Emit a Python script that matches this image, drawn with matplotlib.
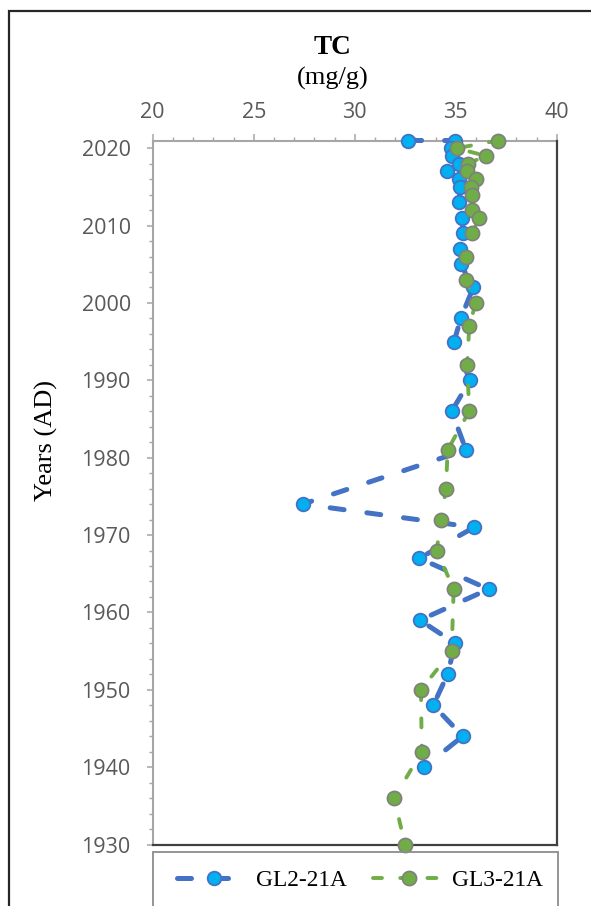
import matplotlib
matplotlib.use("Agg")
import matplotlib.pyplot as plt
from matplotlib.patches import Rectangle
from matplotlib.ticker import MultipleLocator

# --- data -------------------------------------------------------------
gl2_years = [2021, 2021, 2020, 2019, 2018, 2017, 2016, 2015, 2013, 2011,
             2009, 2007, 2005, 2002, 1998, 1995, 1990, 1986, 1981, 1974,
             1971, 1967, 1963, 1959, 1956, 1952, 1948, 1944, 1940]
gl2_tc = [32.62, 34.98, 34.75, 34.80, 35.16, 34.58, 35.18, 35.21, 35.18, 35.30,
          35.38, 35.20, 35.25, 35.87, 35.25, 34.92, 35.71, 34.80, 35.51, 27.43,
          35.91, 33.20, 36.63, 33.23, 34.97, 34.60, 33.89, 35.35, 33.43]

gl3_years = [2021, 2020, 2019, 2018, 2017, 2016, 2015, 2014, 2012, 2011,
             2009, 2006, 2003, 2000, 1997, 1992, 1986, 1981, 1976, 1972,
             1968, 1963, 1955, 1950, 1942, 1936, 1930]
gl3_tc = [37.08, 35.06, 36.50, 35.59, 35.54, 35.99, 35.74, 35.79, 35.79, 36.14,
          35.82, 35.51, 35.51, 35.99, 35.67, 35.57, 35.67, 34.60, 34.52, 34.27,
          34.06, 34.90, 34.80, 33.28, 33.32, 31.95, 32.49]

series_names = ["GL2-21A", "GL3-21A"]
x_title = "TC"
x_unit = "(mg/g)"
y_title = "Years (AD)"

# --- figure -----------------------------------------------------------
W, H = 591, 906
fig = plt.figure(figsize=(W / 100, H / 100), dpi=100)
fig.patch.set_facecolor("white")


def fx(px):
    return px / W


def fy(py):
    return 1 - py / H


ax_left, ax_right, ax_top, ax_bottom = 152.7, 556.7, 140.5, 844.5
ax = fig.add_axes([fx(ax_left), fy(ax_bottom),
                   (ax_right - ax_left) / W, (ax_bottom - ax_top) / H])

serif = "Liberation Serif"
tick_font = "Open Sans"
tick_color = "#595959"
axis_gray = "#A6A6A6"
frame_dark = "#404040"

blue_line, = ax.plot(gl2_tc, gl2_years, color="#4472C4", lw=3.6,
                     dashes=(2.8, 4.6), dash_capstyle="round",
                     marker="o", markersize=9.8, markerfacecolor="#00B0F0",
                     markeredgecolor="#4472C4", markeredgewidth=1.3,
                     clip_on=False, zorder=3, label=series_names[0])
green_line, = ax.plot(gl3_tc, gl3_years, color="#70AD47", lw=2.8,
                      dashes=(2.3, 4.7), dash_capstyle="round",
                      marker="o", markersize=10.2, markerfacecolor="#70AD47",
                      markeredgecolor="#7F7F7F", markeredgewidth=1.2,
                      clip_on=False, zorder=4, label=series_names[1])

ax.set_xlim(20, 40)
ax.set_ylim(1930, 2021)

ax.xaxis.set_major_locator(MultipleLocator(5))
ax.xaxis.set_minor_locator(MultipleLocator(1))
ax.yaxis.set_major_locator(MultipleLocator(10))
ax.yaxis.set_minor_locator(MultipleLocator(2))
ax.xaxis.tick_top()

ax.tick_params(axis="x", which="major", direction="out", length=5, width=1.1,
               color=axis_gray, pad=17, labelsize=15.5, labelcolor=tick_color)
ax.tick_params(axis="x", which="minor", direction="out", length=2.6, width=1.0,
               color=axis_gray)
ax.tick_params(axis="y", which="major", direction="out", length=4.3, width=1.1,
               color=axis_gray, pad=11.5, labelsize=15.5, labelcolor=tick_color)
ax.tick_params(axis="y", which="minor", direction="out", length=3.2, width=1.0,
               color=axis_gray)
for lab in ax.get_xticklabels() + ax.get_yticklabels():
    lab.set_fontfamily(tick_font)
for lab in ax.get_xticklabels():
    lab.set_verticalalignment("center_baseline")

ax.spines["top"].set_color(axis_gray)
ax.spines["top"].set_linewidth(1.5)
ax.spines["left"].set_color(axis_gray)
ax.spines["left"].set_linewidth(1.5)
ax.spines["right"].set_color(frame_dark)
ax.spines["right"].set_linewidth(1.6)
ax.spines["bottom"].set_color(frame_dark)
ax.spines["bottom"].set_linewidth(1.6)
ax.spines["top"].set_zorder(2)
ax.spines["left"].set_zorder(2)

# axis titles
fig.text(fx(332.5), fy(48), x_title, fontfamily=serif, fontweight="bold",
         fontsize=19.5, ha="center", va="center")
fig.text(fx(332.5), fy(78), x_unit, fontfamily=serif, fontsize=19,
         ha="center", va="center")
fig.text(fx(46), fy(441), y_title, fontfamily=serif, fontsize=19,
         rotation=90, ha="center", va="center")

# legend with its own open-bottom frame
leg = fig.legend(handles=[blue_line, green_line], labels=series_names,
                 loc="center", bbox_to_anchor=(fx(360), fy(880)), ncol=2,
                 frameon=False, handlelength=3.1, handletextpad=0.28,
                 columnspacing=1.1,
                 prop={"family": serif, "size": 16.8})
fig.add_artist(Rectangle((fx(153), fy(930)), (558 - 153) / W, (930 - 852) / H,
                         transform=fig.transFigure, fill=False,
                         edgecolor="#8C8C8C", linewidth=1.3))

# outer chart border
fig.add_artist(Rectangle((fx(8.5), fy(960)), (640 - 8.5) / W, (960 - 10.5) / H,
                         transform=fig.transFigure, fill=False,
                         edgecolor="#262626", linewidth=1.6))

fig.savefig("out.png", dpi=100)
